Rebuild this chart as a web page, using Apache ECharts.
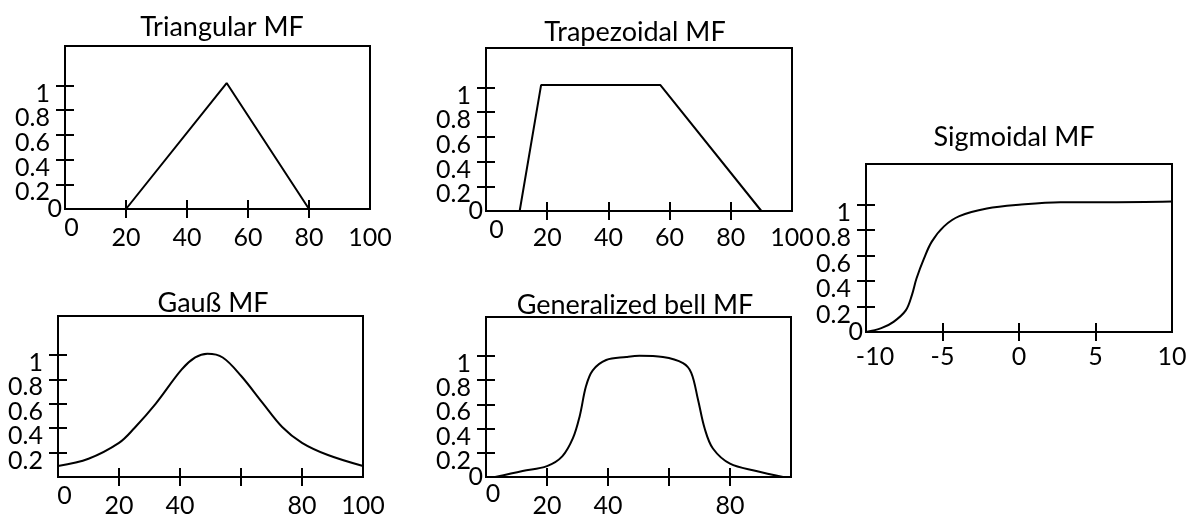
<!DOCTYPE html>
<html><head><meta charset="utf-8">
<script src="https://cdn.jsdelivr.net/npm/echarts@6/dist/echarts.min.js"></script>
<style>html,body{margin:0;padding:0;background:#fff}#c{width:1194px;height:518px}</style>
</head><body><div id="c"></div>
<script>
// ---- data ----
const titles = ['Triangular MF', 'Trapezoidal MF', 'Sigmoidal MF', 'Gauß MF', 'Generalized bell MF'];
const triX = [0, 20, 53, 80, 100];
const triY = [0, 0, 1.02, 0, 0];
const trapX = [0, 11, 18, 57, 90, 100];
const trapY = [0, 0, 1.02, 1.02, 0, 0];
const sigX = [-10, -9, -8.2, -7.4, -7, -6.7, -6.2, -5.7, -4.9, -3.9, -2.1, 0, 2.7, 6, 10];
const sigY = [0, 0.03, 0.08, 0.17, 0.29, 0.42, 0.58, 0.71, 0.83, 0.91, 0.97, 1.0, 1.02, 1.02, 1.025];
const gaussX = [0, 10, 20, 25, 32, 40.5, 45, 49, 54, 60, 67, 73.5, 80, 88.5, 100];
const gaussY = [0.09, 0.15, 0.28, 0.4, 0.6, 0.88, 0.98, 1.01, 0.98, 0.83, 0.61, 0.41, 0.28, 0.18, 0.09];
const bellX = [3, 12, 20, 25, 28.5, 30.7, 32.8, 35, 39.4, 46, 50.3, 58, 64.6, 67.3, 69.5, 71.7, 74.4, 80, 88.6, 97.4];
const bellY = [0, 0.05, 0.09, 0.17, 0.32, 0.5, 0.75, 0.88, 0.965, 0.99, 1.0, 0.99, 0.94, 0.86, 0.64, 0.4, 0.235, 0.11, 0.05, 0];

const yTicks = [0.2, 0.4, 0.6, 0.8, 1];
const yLabelsFull = [0, 0.2, 0.4, 0.6, 0.8, 1];
const yLabelsNoZero = [0.2, 0.4, 0.6, 0.8, 1];
const xTicks100 = [20, 40, 60, 80];
const xTicksSig = [-5, 0, 5];
const xLabelsTri = [0, 20, 40, 60, 80, 100];
const xLabelsTrap = [0, 20, 40, 60, 80, 100];
const xLabelsSig = [-10, -5, 0, 5, 10];
const xLabelsGauss = [0, 20, 40, 80, 100];
const xLabelsBell = [0, 20, 40, 80];

// ---- layout / style ----
const FONT = 'Lato';
const FS = 25;
const TFS = 27;
const panels = [
  {title: titles[0], xs: triX, ys: triY, smooth: false, xMin: 0, xMax: 100, xTicks: xTicks100, xLabels: xLabelsTri, yLabels: yLabelsFull,
   grid: {left: 65, top: 46, width: 305, height: 163}, titlePos: [222, 14], xMargin: 15, xPad: 10, firstPadL: 13, firstRaised: true},
  {title: titles[1], xs: trapX, ys: trapY, smooth: false, xMin: 0, xMax: 100, xTicks: xTicks100, xLabels: xLabelsTrap, yLabels: yLabelsFull,
   grid: {left: 486, top: 48, width: 306, height: 163}, titlePos: [635, 19], xMargin: 15, xPad: 8, firstPadL: 21, firstRaised: true},
  {title: titles[2], xs: sigX, ys: sigY, smooth: 0.35, xMin: -10, xMax: 10, xTicks: xTicksSig, xLabels: xLabelsSig, yLabels: yLabelsFull,
   grid: {left: 866, top: 164, width: 306, height: 168}, titlePos: [1014, 124], xMargin: 21, xPad: 0, firstPadL: 18, firstRaised: false},
  {title: titles[3], xs: gaussX, ys: gaussY, smooth: 0.35, xMin: 0, xMax: 100, xTicks: xTicks100, xLabels: xLabelsGauss, yLabels: yLabelsNoZero,
   grid: {left: 58, top: 316, width: 305, height: 163}, titlePos: [213, 290], xMargin: 15, xPad: 10, firstPadL: 13, firstRaised: true},
  {title: titles[4], xs: bellX, ys: bellY, smooth: 0.35, xMin: 0, xMax: 100, xTicks: xTicks100, xLabels: xLabelsBell, yLabels: yLabelsFull,
   grid: {left: 486, top: 317, width: 305, height: 162}, titlePos: [635, 292], xMargin: 13, xPad: 12, firstPadL: 14, firstRaised: true}
];

const txt = {fontFamily: FONT, fontSize: FS, color: '#000'};
const tickStyle = {color: '#000', width: 2};
const option = {
  animation: false,
  backgroundColor: '#fff',
  title: [], grid: [], xAxis: [], yAxis: [], series: []
};

function yAxisBase(i) {
  return {
    type: 'value', gridIndex: i, min: 0, max: 1.32, position: 'left', offset: -9,
    axisLine: {show: false, onZero: false}, splitLine: {show: false}
  };
}

panels.forEach((p, i) => {
  option.title.push({
    text: p.title, left: p.titlePos[0], top: p.titlePos[1], textAlign: 'center', padding: 0,
    textStyle: {fontFamily: FONT, fontSize: TFS, fontWeight: 'normal', color: '#000'}
  });
  option.grid.push(Object.assign({show: true, borderColor: '#000', borderWidth: 2, backgroundColor: 'transparent', containLabel: false}, p.grid));
  const first = p.xLabels[0];
  option.xAxis.push({
    type: 'value', gridIndex: i, min: p.xMin, max: p.xMax, position: 'bottom', offset: -9,
    axisLine: {show: false, onZero: false}, splitLine: {show: false},
    axisTick: {show: true, customValues: p.xTicks, length: 18, inside: false, lineStyle: tickStyle},
    axisLabel: {
      show: true, customValues: p.xLabels, margin: p.xMargin, showMinLabel: true, showMaxLabel: true, hideOverlap: false,
      formatter: v => (v === first ? '{z|' + v + '}' : '{n|' + v + '}'),
      rich: {
        z: Object.assign({padding: [p.firstRaised ? 0 : p.xPad, 0, 0, p.firstPadL]}, txt),
        n: Object.assign({padding: [p.xPad, 0, 0, 0]}, txt)
      }
    }
  });
  // tick-only y axis (series bound to this one)
  option.yAxis.push(Object.assign(yAxisBase(i), {
    axisTick: {show: true, customValues: yTicks, length: 18, inside: false, lineStyle: tickStyle},
    axisLabel: {show: false}
  }));
  // two label-only y axes (alternate labels, so no label is dropped for overlap)
  [0, 1].forEach(parity => {
    const vals = p.yLabels.filter((v, k) => k % 2 === parity);
    option.yAxis.push(Object.assign(yAxisBase(i), {
      axisTick: {show: false},
      axisLabel: {
        show: true, customValues: vals, margin: 12, showMinLabel: true, showMaxLabel: true, hideOverlap: false,
        formatter: v => (v === 0 ? '{z|0}' : '{n|' + v + '}'),
        rich: {
          z: Object.assign({padding: [0, 0, 0, 0]}, txt),
          n: Object.assign({padding: [16, 12, 0, 0]}, txt)
        }
      }
    }));
  });
  option.series.push({
    type: 'line', xAxisIndex: i, yAxisIndex: 3 * i, showSymbol: false, symbol: 'none',
    smooth: p.smooth, clip: false,
    lineStyle: {color: '#000', width: 2},
    data: p.xs.map((x, k) => [x, p.ys[k]])
  });
});

const chart = echarts.init(document.getElementById('c'), null, {renderer: 'canvas'});
chart.setOption(option);
</script>
</body></html>
